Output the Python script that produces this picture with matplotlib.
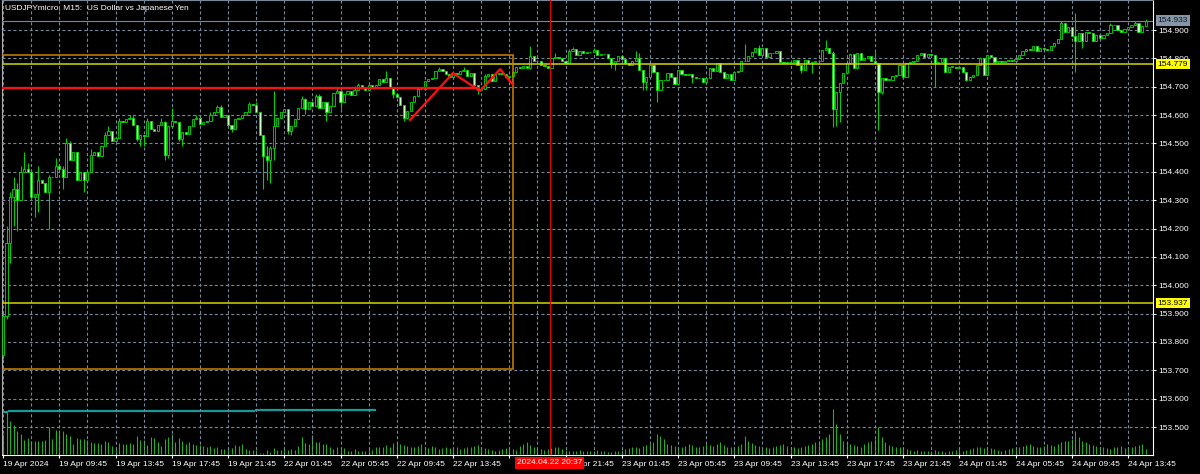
import matplotlib
matplotlib.use('Agg')
import matplotlib.pyplot as plt
import matplotlib.transforms as mtransforms
from matplotlib.patches import Rectangle
import numpy as np

plt.rcParams['font.family'] = ['Liberation Sans', 'DejaVu Sans']

# ---- data (M15 bars, 19 Apr 05:45 -> 24 Apr ~14:15) ----
first_open = 153.755
closes = [
    153.890, 154.150, 154.310, 154.340, 154.300, 154.400, 154.410, 154.400, 154.310, 154.320,
    154.370, 154.360, 154.330, 154.380, 154.380, 154.420, 154.410, 154.380, 154.500, 154.440,
    154.470, 154.370, 154.400, 154.370, 154.400, 154.460, 154.470, 154.455, 154.490, 154.530,
    154.545, 154.510, 154.520, 154.580, 154.575, 154.585, 154.590, 154.565, 154.515, 154.530,
    154.525, 154.580, 154.550, 154.545, 154.565, 154.575, 154.460, 154.560, 154.580, 154.575,
    154.515, 154.540, 154.535, 154.560, 154.585, 154.590, 154.570, 154.575, 154.580, 154.600,
    154.610, 154.630, 154.595, 154.600, 154.565, 154.550, 154.585, 154.590, 154.600, 154.610,
    154.640, 154.635, 154.610, 154.530, 154.455, 154.440, 154.485, 154.560, 154.590, 154.610,
    154.620, 154.545, 154.563, 154.585, 154.626, 154.655, 154.620, 154.645, 154.632, 154.667,
    154.626, 154.645, 154.610, 154.632, 154.679, 154.685, 154.645, 154.673, 154.685, 154.670,
    154.690, 154.705, 154.700, 154.690, 154.705, 154.700, 154.705, 154.726, 154.715, 154.730,
    154.700, 154.675, 154.665, 154.635, 154.590, 154.614, 154.645, 154.667, 154.691, 154.693,
    154.720, 154.726, 154.730, 154.755, 154.762, 154.757, 154.745, 154.735, 154.748, 154.745,
    154.755, 154.758, 154.738, 154.748, 154.705, 154.690, 154.692, 154.738, 154.745, 154.720,
    154.745, 154.748, 154.745, 154.735, 154.738, 154.752, 154.768, 154.767, 154.772, 154.765,
    154.808, 154.790, 154.790, 154.775, 154.772, 154.765, 154.802, 154.805, 154.802, 154.790,
    154.785, 154.826, 154.832, 154.812, 154.825, 154.820, 154.823, 154.823, 154.830, 154.812,
    154.815, 154.815, 154.800, 154.779, 154.790, 154.810, 154.797, 154.785, 154.776, 154.790,
    154.800, 154.760, 154.718, 154.735, 154.776, 154.753, 154.688, 154.724, 154.725, 154.747,
    154.733, 154.710, 154.759, 154.745, 154.740, 154.745, 154.735, 154.730, 154.730, 154.715,
    154.730, 154.765, 154.755, 154.782, 154.753, 154.729, 154.745, 154.724, 154.753, 154.755,
    154.790, 154.791, 154.810, 154.822, 154.835, 154.812, 154.835, 154.806, 154.820, 154.818,
    154.825, 154.788, 154.782, 154.788, 154.788, 154.795, 154.776, 154.759, 154.794, 154.782,
    154.788, 154.792, 154.790, 154.829, 154.835, 154.818, 154.621, 154.680, 154.712, 154.747,
    154.782, 154.814, 154.765, 154.818, 154.794, 154.800, 154.810, 154.790, 154.783, 154.680,
    154.730, 154.725, 154.725, 154.737, 154.741, 154.776, 154.735, 154.782, 154.786, 154.790,
    154.812, 154.820, 154.806, 154.815, 154.812, 154.782, 154.786, 154.800, 154.753, 154.771,
    154.771, 154.765, 154.771, 154.753, 154.724, 154.735, 154.741, 154.776, 154.800, 154.741,
    154.812, 154.806, 154.788, 154.790, 154.788, 154.790, 154.795, 154.790, 154.797, 154.812,
    154.826, 154.832, 154.830, 154.845, 154.826, 154.835, 154.832, 154.830, 154.845, 154.855,
    154.868, 154.925, 154.894, 154.910, 154.878, 154.860, 154.888, 154.860, 154.894, 154.890,
    154.860, 154.882, 154.871, 154.882, 154.888, 154.918, 154.918, 154.900, 154.894, 154.905,
    154.912, 154.918, 154.924, 154.894, 154.915, 154.933,
]

# wick extremes that reach beyond the body (bar index -> price)
wick_highs = {
    0: 153.90, 1: 154.21, 2: 154.33, 3: 154.38, 4: 154.36, 5: 154.42, 6: 154.47, 7: 154.43,
    8: 154.41, 10: 154.42, 13: 154.39, 15: 154.45, 17: 154.42, 18: 154.52, 19: 154.51,
    25: 154.48, 29: 154.54, 30: 154.56, 33: 154.59, 36: 154.60, 37: 154.60, 41: 154.59,
    45: 154.59, 46: 154.58, 48: 154.626, 55: 154.60, 59: 154.61, 61: 154.635, 62: 154.635,
    70: 154.645, 72: 154.645, 75: 154.49, 76: 154.49, 77: 154.685, 85: 154.667, 86: 154.66,
    89: 154.675, 90: 154.675, 95: 154.696, 100: 154.702, 101: 154.714, 109: 154.755,
    124: 154.77, 131: 154.77, 137: 154.745, 150: 154.844, 157: 154.82, 161: 154.832,
    162: 154.84, 168: 154.838, 180: 154.827, 181: 154.82, 211: 154.85, 215: 154.847,
    234: 154.865, 236: 154.825, 248: 154.824, 301: 154.93, 305: 154.96, 315: 154.925,
    322: 154.93, 325: 154.94,
}
wick_lows = {
    0: 153.74, 1: 153.88, 2: 154.08, 3: 154.21, 4: 154.19, 5: 154.30, 8: 154.30, 9: 154.24,
    10: 154.26, 13: 154.20, 17: 154.34, 23: 154.33, 38: 154.51, 39: 154.49, 40: 154.49,
    46: 154.44, 47: 154.45, 50: 154.51, 51: 154.49, 65: 154.54, 74: 154.34, 75: 154.37,
    76: 154.36, 77: 154.44, 81: 154.532, 82: 154.53, 86: 154.605, 92: 154.58, 96: 154.62,
    111: 154.66, 114: 154.579, 115: 154.585, 135: 154.673, 150: 154.761, 173: 154.765,
    174: 154.759, 182: 154.69, 183: 154.69, 186: 154.647, 196: 154.712, 227: 154.75,
    230: 154.75, 236: 154.559, 237: 154.56, 238: 154.576, 249: 154.547, 250: 154.676,
    265: 154.70, 274: 154.72, 305: 154.753, 307: 154.835,
}

volumes = [
    60, 125, 98, 87, 70, 60, 42, 48, 40, 39,
    39, 38, 42, 82, 45, 72, 63, 69, 60, 53,
    30, 48, 44, 46, 43, 36, 33, 33, 30, 38,
    36, 25, 17, 34, 30, 30, 33, 30, 54, 42,
    43, 28, 51, 48, 36, 25, 44, 51, 60, 37,
    49, 40, 30, 36, 30, 28, 27, 25, 20, 23,
    18, 20, 15, 16, 20, 18, 28, 25, 30, 15,
    12, 12, 12, 3, 3, 13, 5, 17, 12, 13,
    17, 13, 15, 12, 25, 50, 33, 30, 57, 37,
    35, 30, 30, 22, 15, 20, 15, 17, 10, 8,
    15, 10, 10, 10, 15, 12, 20, 22, 20, 27,
    22, 33, 35, 30, 28, 25, 22, 20, 25, 30,
    22, 18, 25, 20, 15, 18, 22, 18, 15, 20,
    15, 18, 20, 22, 25, 28, 20, 18, 15, 12,
    10, 12, 15, 18, 20, 15, 12, 25, 30, 35,
    28, 20, 18, 15, 12, 15, 18, 20, 22, 15,
    12, 10, 8, 10, 12, 10, 8, 8, 10, 12,
    8, 8, 6, 6, 8, 10, 12, 15, 18, 20,
    22, 18, 25, 28, 30, 35, 60, 55, 45, 30,
    28, 25, 22, 20, 25, 30, 28, 22, 20, 25,
    30, 28, 25, 30, 35, 28, 22, 20, 18, 25,
    30, 55, 40, 32, 28, 25, 22, 20, 18, 22,
    25, 28, 30, 25, 22, 20, 18, 22, 25, 28,
    30, 35, 40, 45, 50, 60, 135, 90, 60, 40,
    35, 30, 28, 25, 22, 30, 35, 40, 45, 80,
    50, 35, 28, 25, 22, 20, 18, 15, 12, 10,
    12, 10, 8, 8, 10, 12, 10, 8, 6, 8,
    10, 12, 15, 10, 12, 15, 18, 20, 22, 18,
    20, 18, 15, 12, 10, 12, 15, 18, 20, 22,
    25, 28, 30, 25, 22, 20, 25, 30, 28, 25,
    30, 35, 40, 38, 45, 70, 50, 40, 35, 30,
    28, 25, 22, 20, 18, 15, 20, 22, 25, 18,
    20, 22, 25, 28, 30, 15,
]

# volume-average indicator (teal) : level segments
teal_starts = [0, 1.5, 71.6]
teal_ends = [1.5, 71.6, 106]
teal_levels = [127, 130, 132]

time_label_bars = list(range(0, 321, 16))
time_labels = ["19 Apr 2024", "19 Apr 09:45", "19 Apr 13:45", "19 Apr 17:45", "19 Apr 21:45",
               "22 Apr 01:45", "22 Apr 05:45", "22 Apr 09:45", "22 Apr 13:45", "22 Apr 17:45",
               "22 Apr 21:45", "23 Apr 01:45", "23 Apr 05:45", "23 Apr 09:45", "23 Apr 13:45",
               "23 Apr 17:45", "23 Apr 21:45", "24 Apr 01:45", "24 Apr 05:45", "24 Apr 09:45",
               "24 Apr 13:45"]
price_ticks = [153.5, 153.6, 153.7, 153.8, 153.9, 154.0, 154.1, 154.2, 154.3, 154.4,
               154.5, 154.6, 154.7, 154.8, 154.9]

bid_price = 154.933
yellow_levels = [154.779, 153.937]
box_start, box_end, box_low, box_high = -5, 145.1, 153.705, 154.812
red_level, red_level_end = 154.695, 135.7
zigzag_bars = [115.8, 128.0, 135.7, 141.4, 145.1]
zigzag_prices = [154.583, 154.748, 154.685, 154.762, 154.706]
cross_bar = 155.5
cross_label = "2024.04.22 20:37"
title = "USDJPYmicro, M15:  US Dollar vs Japanese Yen"

# ---- figure ----
W, H = 1200, 474
fig = plt.figure(figsize=(12, 4.74), dpi=100, facecolor='black')
L, R, B = 1.7, 1153, 455
rect = [L / W, 1 - B / H, (R - L) / W, B / H]
vax = fig.add_axes(rect)
vax.set_facecolor('black')
ax = fig.add_axes(rect, sharex=vax)
ax.set_facecolor('none')

ax.set_xlim(-0.37, 327.1)
ax.set_ylim(153.4014, 155.0058)
vax.set_ylim(-3, 1362)

x = np.arange(len(closes))
c = np.array(closes)
o = np.concatenate([[first_open], c[:-1]])
hi = np.maximum(o, c)
lo = np.minimum(o, c)
for i, v in wick_highs.items():
    hi[i] = max(hi[i], v)
for i, v in wick_lows.items():
    lo[i] = min(lo[i], v)

# volumes + indicator
vax.vlines(x, 0, volumes, colors='#22b022', lw=0.8)
vax.hlines(teal_levels, teal_starts, teal_ends, colors='#139a9a', lw=1.6)

# grid
ax.set_xticks(range(0, 327, 8), minor=True)
grid_kw = dict(color='#778899', lw=0.8, dashes=(2.7, 2.2))
ax.grid(True, which='both', axis='x', **grid_kw)
ax.grid(True, which='major', axis='y', **grid_kw)
ax.set_axisbelow(True)

# candles
ax.vlines(x, lo, hi, colors='#00d000', lw=0.8, zorder=2)
fills = np.where(c >= o, 'black', '#c8ffc0')
ax.bar(x, np.maximum(np.abs(c - o), 0.0006), bottom=np.minimum(o, c), width=0.62,
       color=fills, edgecolor='#00e000', linewidth=0.6, zorder=3)

# objects
ax.axhline(bid_price, color='#778899', lw=0.8, zorder=1)
for lvl in yellow_levels:
    ax.axhline(lvl, color='#d4d400', lw=1.1, zorder=4)
ax.add_patch(Rectangle((box_start, box_low), box_end - box_start, box_high - box_low,
                       fill=False, edgecolor='#d08000', lw=1.1, zorder=4))
ax.hlines(red_level, -1, red_level_end, colors='#ff1010', lw=1.6, zorder=5)
ax.plot(zigzag_bars, zigzag_prices, color='#ff1010', lw=1.6, zorder=5)
ax.axvline(cross_bar, color='#e00000', lw=0.8, zorder=5)

# axes cosmetics
for s in ax.spines.values():
    s.set_visible(False)
vax.spines['top'].set_color('#778899')
vax.spines['left'].set_color('#b0b0b0')
vax.spines['right'].set_color('white')
vax.spines['bottom'].set_color('white')
for s in vax.spines.values():
    s.set_linewidth(0.8)
vax.tick_params(left=False, labelleft=False, bottom=False, labelbottom=False)

ax.set_yticks(price_ticks)
ax.set_yticklabels([f"{p:.3f}" for p in price_ticks])
ax.tick_params(axis='y', left=False, labelleft=False, right=True, labelright=True,
               direction='out', length=2.2, width=0.8, colors='white', labelsize=6, pad=1.5)
ax.set_xticks(time_label_bars)
# the time label sitting right under the crosshair date box is hidden by it
ax.set_xticklabels([t if not (cross_bar - 16 < b < cross_bar) else ''
                    for b, t in zip(time_label_bars, time_labels)])
ax.tick_params(axis='x', which='major', direction='out', length=2.5, width=0.8,
               colors='white', labelsize=6, pad=1.5)
ax.tick_params(axis='x', which='minor', length=0)
for lbl in ax.get_xticklabels():
    lbl.set_horizontalalignment('left')

# price labels on the right scale
ty = mtransforms.blended_transform_factory(ax.transAxes, ax.transData)
lx = (1157.5 - L) / (R - L)
ax.text(lx, bid_price, f"{bid_price:.3f}", transform=ty, ha='left', va='center', fontsize=6,
        color='#101820', bbox=dict(boxstyle='square,pad=0.2', fc='#8696a8', ec='none'), zorder=10)
for lvl in yellow_levels:
    ax.text(lx, lvl, f"{lvl:.3f}", transform=ty, ha='left', va='center', fontsize=6,
            color='black', bbox=dict(boxstyle='square,pad=0.2', fc='#ffff00', ec='none'), zorder=10)

# crosshair date label
tx = mtransforms.blended_transform_factory(ax.transData, ax.transAxes)
ax.text(cross_bar, -8 / B, cross_label, transform=tx, ha='center', va='center',
        fontsize=6, color='white', bbox=dict(boxstyle='square,pad=0.25', fc='#ff0000', ec='none'),
        zorder=10, clip_on=False)

fig.text(5 / W, 1 - 9 / H, title, color='white', fontsize=6, ha='left', va='center')

fig.savefig('out.png', dpi=100, facecolor='black')
